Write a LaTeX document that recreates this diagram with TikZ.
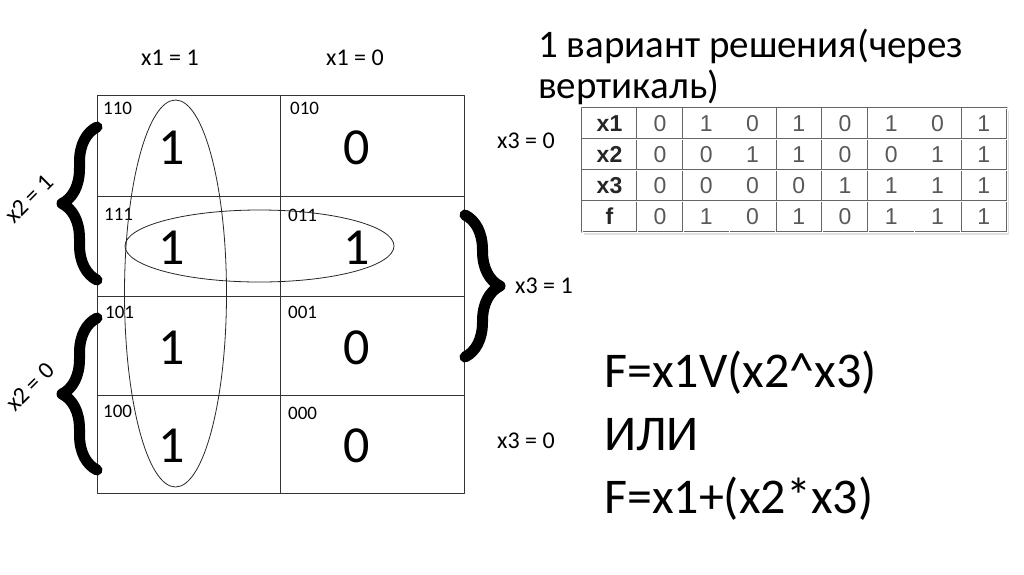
\documentclass[tikz,border=0pt]{standalone}
\usepackage{fontspec}
\setmainfont{Carlito}
\newfontfamily\tablefont{Liberation Sans}
\usetikzlibrary{decorations.pathreplacing}

\tikzset{
  gridline/.style={draw=black!80, line width=1pt},
  bigbrace/.style={decorate, decoration={brace, amplitude=35pt}, line width=11pt, line cap=round},
  codelabel/.style={anchor=base west, inner sep=0pt, font=\fontsize{19}{19}\selectfont},
  cellvalue/.style={anchor=base, inner sep=0pt, font=\fontsize{52}{52}\selectfont},
  varlabel/.style={inner sep=0pt, font=\fontsize{24}{24}\selectfont},
  tabline/.style={draw=black!60, line width=0.6pt, double=white, double distance=0.7pt},
  tabtext/.style={inner sep=0pt, font=\tablefont\fontsize{23}{23}\selectfont}
}

\begin{document}
\begin{tikzpicture}[x=1pt, y=-1pt, line join=round]
    % Размеры карты
    \def\mapL{97}
    \def\mapM{280}
    \def\mapR{464}
    \def\mapT{95}
    \def\mapB{493}

    \useasboundingbox (0,0) rectangle (1024,574);

    % Сетка карты Карно
    \draw[gridline] (\mapL,\mapT) rectangle (\mapR,\mapB);
    \draw[gridline] (\mapM,\mapT) -- (\mapM,\mapB);
    \foreach \y in {196,296,395}
        \draw[gridline] (\mapL,\y) -- (\mapR,\y);

    % Коды клеток
    \foreach \c/\x/\y in {110/103/114, 010/290/114, 111/104/220, 011/288/221,
                          101/105/318, 001/288/318, 100/103/417, 000/288/419}
        \node[codelabel] (c\c) at (\x,\y) {\c};

    % Значения функции
    \foreach \c/\x/\y/\v in {110/172/164/1, 010/357/164/0, 111/172/264/1, 011/357/264/1,
                             101/172/364/1, 001/357/364/0, 100/172/462/1, 000/357/462/0}
        \node[cellvalue] (v\c) at (\x,\y) {\v};

    % Контуры склейки
    \draw[black!85, line width=0.8pt] (175.5,293.5) ellipse [x radius=51, y radius=193.5];
    \draw[black!85, line width=0.8pt] (259.5,246) ellipse [x radius=134.5, y radius=36];

    % Подписи столбцов
    \node[varlabel, anchor=base] (x1a) at (170,65) {x1 = 1};
    \node[varlabel, anchor=base] (x1b) at (355,65) {x1 = 0};

    % Фигурные скобки
    \draw[bigbrace] (97,280) -- (97,127);
    \draw[bigbrace] (97,470) -- (97,318);
    \draw[bigbrace] (465,215) -- (465,357);

    \node[varlabel, rotate=45] (x2a) at (29,199) {x2 = 1};
    \node[varlabel, rotate=45] (x2b) at (30,387) {x2 = 0};
    \node[varlabel, anchor=base west] (x3a) at (497,148) {x3 = 0};
    \node[varlabel, anchor=base west] (x3b) at (515,293) {x3 = 1};
    \node[varlabel, anchor=base west] (x3c) at (497,448) {x3 = 0};

    % Заголовок
    \node[anchor=base west, inner sep=0pt, font=\fontsize{39}{39}\selectfont] (title1) at (538,57) {1 вариант решения(через};
    \node[anchor=base west, inner sep=0pt, font=\fontsize{39}{39}\selectfont] (title2) at (538,98) {вертикаль)};

    % Таблица истинности
    \fill[black!12] (584,111) rectangle (1009,235);
    \fill[white] (582,108) rectangle (1007,232);
    \draw[tabline] (582,108) rectangle (1007,232);
    \draw[tabline] (637,108) -- (637,232);
    \foreach \i in {1,...,7}
        \draw[tabline] (637+46.25*\i,108) -- (637+46.25*\i,232);
    \foreach \y in {139,170,201}
        \draw[tabline] (582,\y) -- (1007,\y);

    \foreach \n [count=\r] in {x1,x2,x3,f}
        \node[tabtext, text=black!85, font=\tablefont\bfseries\fontsize{23}{23}\selectfont] (h\n) at (609.5,{108+31*(\r-0.5)}) {\n};

    \foreach \r/\vals in {1/{0,1,0,1,0,1,0,1}, 2/{0,0,1,1,0,0,1,1},
                          3/{0,0,0,0,1,1,1,1}, 4/{0,1,0,1,0,1,1,1}}
        \foreach \v [count=\c] in \vals
            \node[tabtext, text=black!65] (t\r-\c) at ({637+46.25*(\c-0.5)},{108+31*(\r-0.5)}) {\v};

    % Ответ
    \node[anchor=base west, inner sep=0pt, font=\fontsize{50}{50}\selectfont] (f1) at (604,387) {F=x1V(x2\^{}x3)};
    \node[anchor=base west, inner sep=0pt, font=\fontsize{50}{50}\selectfont] (ili) at (604,450) {ИЛИ};
    \node[anchor=base west, inner sep=0pt, font=\fontsize{50}{50}\selectfont] (f2) at (604,513) {F=x1+(x2*x3)};

\end{tikzpicture}
\end{document}
